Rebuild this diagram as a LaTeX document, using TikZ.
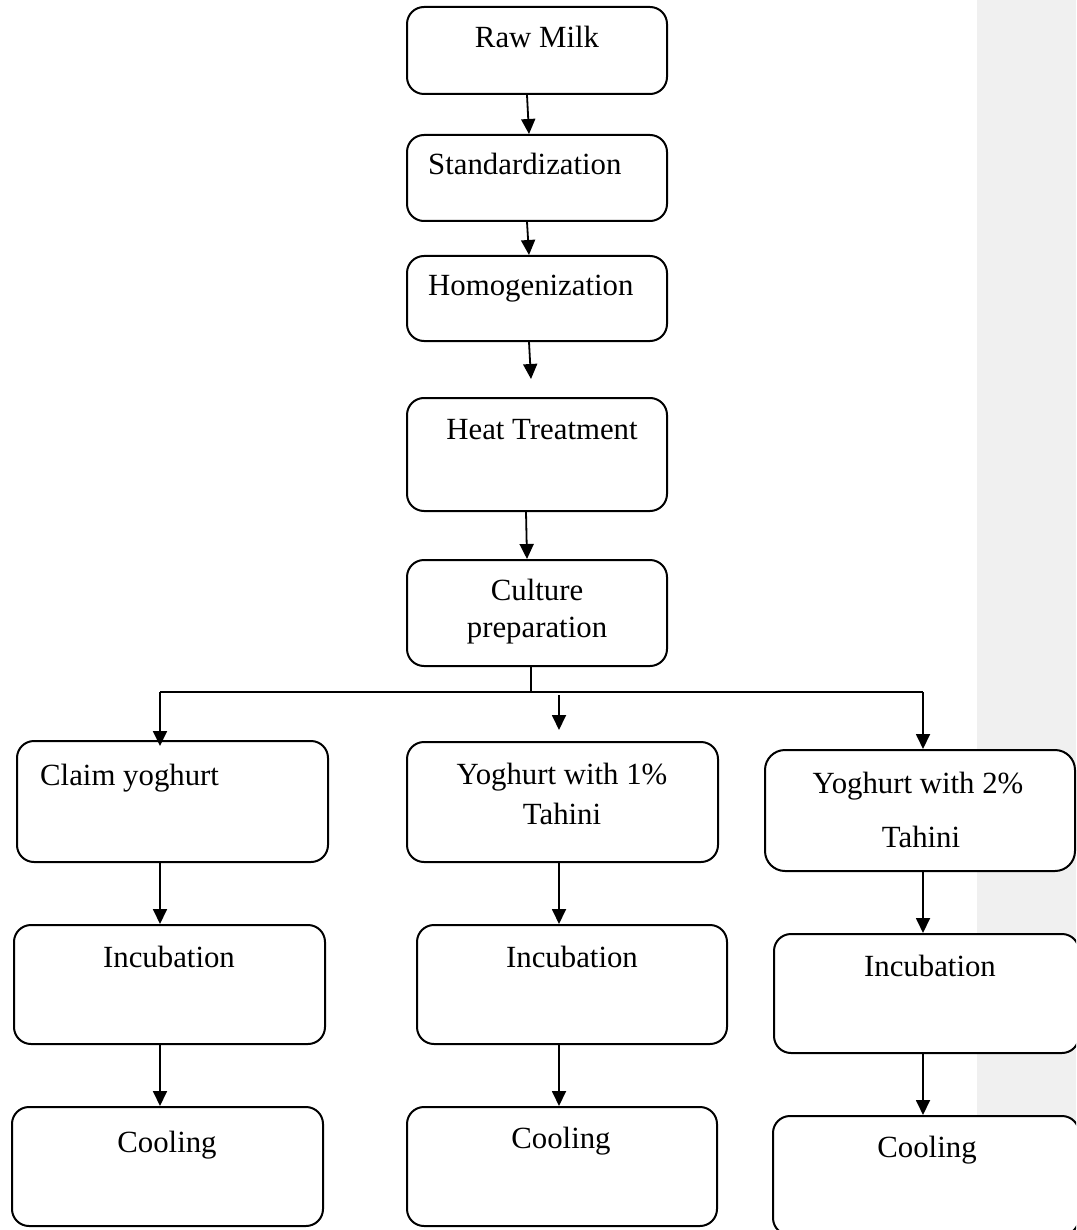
\documentclass[tikz,border=0pt]{standalone}
\usepackage{fontspec}
\setmainfont{Liberation Serif}
\usetikzlibrary{arrows.meta}
\definecolor{bandgrey}{HTML}{F0F0F0}
\tikzset{
  stepbox/.style={draw=black, line width=2pt, fill=white, rounded corners=17pt, rectangle, inner sep=0pt},
  lbl/.style={font=\fontsize{30.8}{37}\selectfont, inner sep=0pt, text=black},
  conn/.style={line width=1.8pt, draw=black},
  arr/.style={conn, -{Triangle[length=15pt,width=14pt]}}
}
\begin{document}
\begin{tikzpicture}[x=1pt,y=-1pt]
\useasboundingbox (0,0) rectangle (1076,1230);
\clip (0,0) rectangle (1076,1230);
\fill[white] (0,0) rectangle (1076,1230);
\fill[bandgrey] (977,0) rectangle (1076,1230);

% boxes
\node[stepbox, minimum width=260pt, minimum height=87pt] (raw) at (537,50.5) {};
\node[stepbox, minimum width=260pt, minimum height=86pt] (std) at (537,178) {};
\node[stepbox, minimum width=260pt, minimum height=85pt] (hom) at (537,298.5) {};
\node[stepbox, minimum width=260pt, minimum height=113pt] (heat) at (537,454.5) {};
\node[stepbox, minimum width=260pt, minimum height=106pt] (cult) at (537,613) {};
\node[stepbox, minimum width=311pt, minimum height=121pt] (claim) at (172.5,801.5) {};
\node[stepbox, minimum width=311pt, minimum height=120pt] (yone) at (562.5,802) {};
\node[stepbox, minimum width=310pt, minimum height=121pt, rounded corners=20pt] (ytwo) at (920,810.5) {};
\node[stepbox, minimum width=311pt, minimum height=119pt] (incL) at (169.5,984.5) {};
\node[stepbox, minimum width=310pt, minimum height=119pt] (incM) at (572,984.5) {};
\node[stepbox, minimum width=305pt, minimum height=119pt] (incR) at (926.5,993.5) {};
\node[stepbox, minimum width=311pt, minimum height=119pt] (coolL) at (167.5,1166.5) {};
\node[stepbox, minimum width=310pt, minimum height=119pt] (coolM) at (562,1166.5) {};
\node[stepbox, minimum width=306pt, minimum height=119pt] (coolR) at (926,1175.5) {};

% labels
\node[lbl, anchor=base] (traw) at (537,48) {Raw Milk};
\node[lbl, anchor=base west] (tstd) at (428,175) {Standardization};
\node[lbl, anchor=base west] (thom) at (428,296) {Homogenization};
\node[lbl, anchor=base] (theat) at (542,439) {Heat Treatment};
\node[lbl, anchor=base] (tcultA) at (537,600) {Culture};
\node[lbl, anchor=base] (tcultB) at (537,637) {preparation};
\node[lbl, anchor=base west] (tclaim) at (40,785) {Claim yoghurt};
\node[lbl, anchor=base] (toneA) at (562,784) {Yoghurt with 1\%};
\node[lbl, anchor=base] (toneB) at (562,824) {Tahini};
\node[lbl, anchor=base] (ttwoA) at (918,793) {Yoghurt with 2\%};
\node[lbl, anchor=base] (ttwoB) at (921,847) {Tahini};
\node[lbl, anchor=base] (tincL) at (169,967) {Incubation};
\node[lbl, anchor=base] (tincM) at (572,967) {Incubation};
\node[lbl, anchor=base] (tincR) at (930,976) {Incubation};
\node[lbl, anchor=base] (tcoolL) at (167,1152) {Cooling};
\node[lbl, anchor=base] (tcoolM) at (561,1148) {Cooling};
\node[lbl, anchor=base] (tcoolR) at (927,1157) {Cooling};

% connectors
\draw[arr] ([xshift=-10pt]raw.south) -- ([xshift=-8pt]std.north);
\draw[arr] ([xshift=-10pt]std.south) -- ([xshift=-8pt]hom.north);
\draw[arr] ([xshift=-8pt]hom.south) -- ([xshift=-6pt,yshift=18pt]heat.north);
\draw[arr] ([xshift=-11pt]heat.south) -- ([xshift=-10pt]cult.north);

\coordinate (split) at (531,692);
\coordinate (bl) at (160,692);
\coordinate (br) at (923,692);
\coordinate (ms) at (559,695);
\coordinate (me) at (559,730);
\draw[conn] ([xshift=-6pt]cult.south) -- (split);
\draw[conn] (bl) -- (br);
\draw[arr] (bl) -- ([yshift=-6pt]bl |- claim.north);
\draw[arr] (br) -- (br |- ytwo.north);
\draw[arr] (ms) -- (me);

\draw[arr] (bl |- claim.south) -- (bl |- incL.north);
\draw[arr] (ms |- yone.south) -- (ms |- incM.north);
\draw[arr] (br |- ytwo.south) -- (br |- incR.north);
\draw[arr] (bl |- incL.south) -- (bl |- coolL.north);
\draw[arr] (ms |- incM.south) -- (ms |- coolM.north);
\draw[arr] (br |- incR.south) -- (br |- coolR.north);
\end{tikzpicture}
\end{document}
